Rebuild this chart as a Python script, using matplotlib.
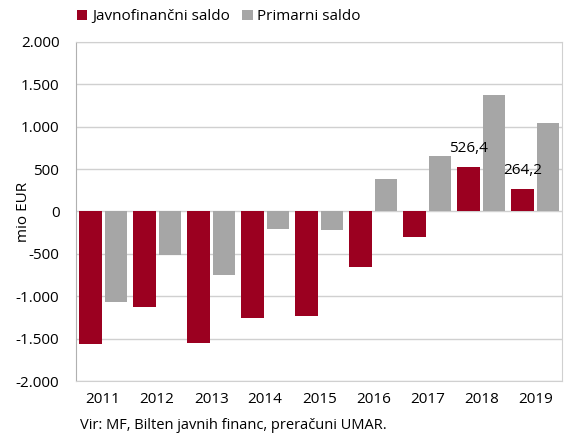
import numpy as np
import matplotlib.pyplot as plt

plt.rcParams['font.family'] = ['Open Sans', 'DejaVu Sans']

years = ['2011', '2012', '2013', '2014', '2015', '2016', '2017', '2018', '2019']
javnofinancni = [-1565, -1129, -1553, -1251, -1235, -659, -298, 526.4, 264.2]
primarni = [-1067, -518, -753, -204, -220, 385, 651, 1373, 1044]

red = '#9b0020'
grey = '#a6a6a6'

fig = plt.figure(figsize=(5.72, 4.36), dpi=100)
ax = fig.add_axes([0.133, 0.126, 0.85, 0.778])

x = np.arange(len(years))
w = 0.415
ax.bar(x - 0.235, javnofinancni, w, color=red, label='Javnofinančni saldo', zorder=3)
ax.bar(x + 0.235, primarni, w, color=grey, label='Primarni saldo', zorder=3)

# labels only for the last two years
for i in (7, 8):
    ax.annotate(f'{javnofinancni[i]:.1f}'.replace('.', ','), (x[i] - 0.235, javnofinancni[i]),
                xytext=(0, 8), textcoords='offset points',
                ha='center', va='bottom', fontsize=11)

ax.set_xlim(-0.5, len(years) - 0.5)
ax.set_ylim(-2000, 2000)
ax.set_yticks(np.arange(-2000, 2001, 500))
ax.set_yticklabels([f'{int(v):,}'.replace(',', '.') for v in np.arange(-2000, 2001, 500)])
ax.set_xticks(x)
ax.set_xticklabels(years)
ax.tick_params(axis='both', length=0, labelsize=11)
ax.tick_params(axis='y', pad=12)
ax.tick_params(axis='x', pad=8)
ax.yaxis.grid(True, color='#d0d0d0', linewidth=1, zorder=0)
for s in ax.spines.values():
    s.set_color('#d0d0d0')
ax.spines['left'].set_color('#b0b0b0')
ax.set_ylabel('mio EUR', fontsize=11)
ax.yaxis.set_label_coords(-0.092, 0.5)

fig.legend(loc='upper left', bbox_to_anchor=(0.11, 1.01), ncol=2, frameon=False,
           fontsize=11, handlelength=0.7, handleheight=0.7, handletextpad=0.3, columnspacing=0.8)
fig.text(0.14, 0.015, 'Vir: MF, Bilten javnih financ, preračuni UMAR.', fontsize=10.5)

fig.savefig('out.png', dpi=100)
